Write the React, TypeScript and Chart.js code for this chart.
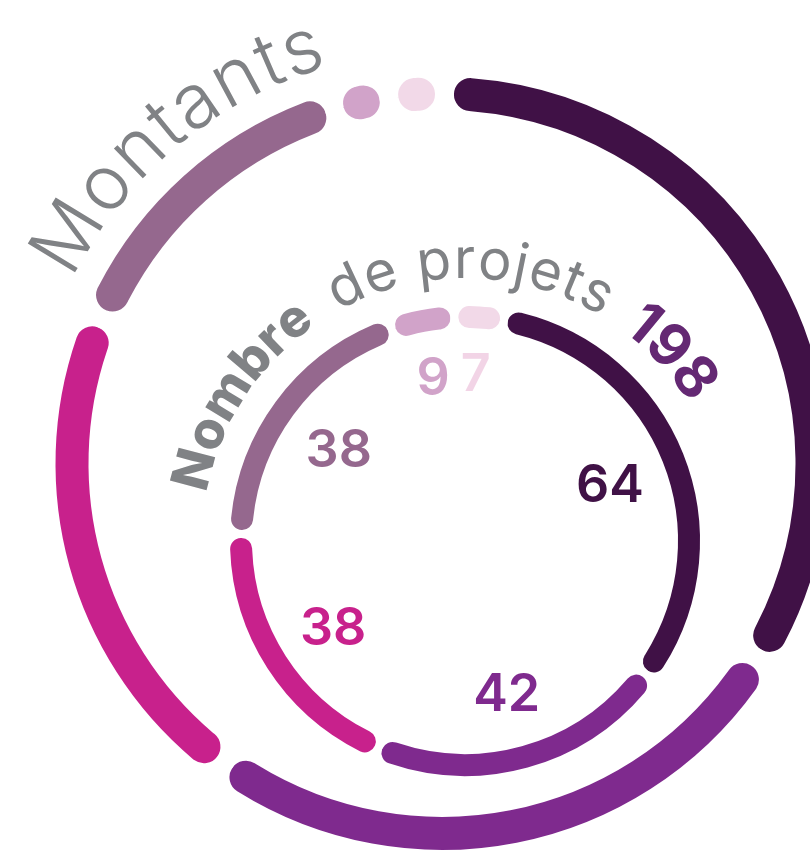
import React, { useEffect, useRef } from 'react';
import { Chart, ArcElement, DoughnutController } from 'chart.js';

Chart.register(ArcElement, DoughnutController);

// ---- data ----
const categories = ['Catégorie 1', 'Catégorie 2', 'Catégorie 3', 'Catégorie 4', 'Catégorie 5', 'Catégorie 6'];
const segmentColors = ['#401146', '#7f2a8e', '#c8218c', '#95688e', '#d1a3c9', '#f2d9e8'];
const labelColors = ['#401146', '#7f2a8e', '#c8218c', '#95688e', '#d1a3c9', '#f2d4e6'];
const montantsValues = [33.7, 26.2, 21.4, 13.9, 2.4, 2.4];
const projetsValues = [64, 42, 38, 38, 9, 7];
const projetsTotal = 198;
const titleMontants = 'Montants';
const titleProjetsBold = 'Nombre';
const titleProjetsLight = 'de projets';

const GREY = '#808285';
const TOTAL_COLOR = '#642873';
const FONT = 'Inter, "Open Sans", sans-serif';

type Part = { text: string; font: string; color: string; spacing: number };

function partsWidth(ctx: CanvasRenderingContext2D, parts: Part[]) {
  let total = 0;
  let n = 0;
  for (const p of parts) {
    ctx.font = p.font;
    for (const ch of p.text) {
      total += ctx.measureText(ch).width;
      n++;
    }
  }
  return { total, n };
}

// angles in degrees, measured clockwise from 12 o'clock
function drawCurved(ctx: CanvasRenderingContext2D, cx: number, cy: number, r: number, startDeg: number, parts: Part[], extra = 0) {
  let a = (startDeg * Math.PI) / 180;
  ctx.save();
  ctx.textAlign = 'center';
  ctx.textBaseline = 'alphabetic';
  for (const p of parts) {
    ctx.font = p.font;
    ctx.fillStyle = p.color;
    for (const ch of p.text) {
      const w = ctx.measureText(ch).width;
      const mid = a + w / 2 / r;
      ctx.save();
      ctx.translate(cx + r * Math.sin(mid), cy - r * Math.cos(mid));
      ctx.rotate(mid);
      ctx.fillText(ch, 0, 0);
      ctx.restore();
      a += (w + p.spacing + extra) / r;
    }
  }
  ctx.restore();
}

const outerTextPlugin = {
  id: 'outerText',
  afterDraw(chart: any) {
    const ctx = chart.ctx as CanvasRenderingContext2D;
    const arc = chart.getDatasetMeta(0).data[0];
    const cx = arc.x;
    const cy = arc.y;
    const r = 413;
    const parts: Part[] = [{ text: titleMontants, font: `300 76px ${FONT}`, color: GREY, spacing: 0 }];
    const startDeg = 296.5;
    const endDeg = 344;
    const { total, n } = partsWidth(ctx, parts);
    const extra = ((endDeg - startDeg) * Math.PI / 180 * r - total) / (n - 1);
    drawCurved(ctx, cx, cy, r, startDeg, parts, extra);
  },
};

const innerTextPlugin = {
  id: 'innerText',
  afterDraw(chart: any) {
    const ctx = chart.ctx as CanvasRenderingContext2D;
    const meta = chart.getDatasetMeta(0);
    const arc0 = meta.data[0];
    const cx = arc0.x;
    const cy = arc0.y;
    const parts: Part[] = [
      { text: titleProjetsBold, font: `800 52px ${FONT}`, color: GREY, spacing: 0 },
      { text: ' ', font: `400 56px ${FONT}`, color: GREY, spacing: 10 },
      { text: titleProjetsLight, font: `400 56px ${FONT}`, color: GREY, spacing: 1.2 },
      { text: ' ', font: `400 56px ${FONT}`, color: GREY, spacing: 8 },
      { text: String(projetsTotal), font: `700 58px ${FONT}`, color: TOTAL_COLOR, spacing: 0 },
    ];
    drawCurved(ctx, cx, cy, 263, 280.5, parts);

    ctx.save();
    ctx.font = `600 52px ${FONT}`;
    ctx.textAlign = 'center';
    ctx.textBaseline = 'alphabetic';
    meta.data.forEach((el: any, i: number) => {
      const label = String(projetsValues[i]);
      const mid = (el.startAngle + el.endAngle) / 2;
      const w = ctx.measureText(label).width;
      const rr = 180 - w * 0.35;
      ctx.fillStyle = labelColors[i];
      ctx.fillText(label, el.x + Math.cos(mid) * rr, el.y + Math.sin(mid) * rr + 19);
    });
    ctx.restore();
  },
};

function makeRing(canvas: HTMLCanvasElement, values: number[], opts: { outer: number; inner: number; gap: number; rotation: number; padding: any }, plugin: any) {
  return new Chart(canvas, {
    type: 'doughnut',
    data: {
      labels: categories,
      datasets: [
        {
          data: values,
          backgroundColor: segmentColors,
          borderColor: '#ffffff',
          borderWidth: opts.gap,
          borderAlign: 'center',
          borderRadius: (opts.outer - opts.inner) / 2,
          hoverOffset: 0,
          clip: false,
        } as any,
      ],
    },
    options: {
      animation: false,
      responsive: false,
      events: [],
      radius: opts.outer,
      cutout: `${(opts.inner / opts.outer) * 100}%`,
      rotation: opts.rotation,
      layout: { padding: opts.padding },
    } as any,
    plugins: [plugin],
  });
}

export default function App() {
  const outerRef = useRef<HTMLCanvasElement>(null);
  const innerRef = useRef<HTMLCanvasElement>(null);

  useEffect(() => {
    const outer = makeRing(outerRef.current!, montantsValues, {
      outer: 396, inner: 344, gap: 19, rotation: 0.38,
      padding: { left: 74, top: 76, right: 0, bottom: 0 },
    }, outerTextPlugin);
    const inner = makeRing(innerRef.current!, projetsValues, {
      outer: 239, inner: 209, gap: 8, rotation: 10,
      padding: { left: 120, top: 231, right: 0, bottom: 0 },
    }, innerTextPlugin);
    return () => {
      outer.destroy();
      inner.destroy();
    };
  }, []);

  const cs: React.CSSProperties = { position: 'absolute', left: 0, top: 0, width: 810, height: 851 };
  return (
    <div style={{ position: 'absolute', left: 0, top: 0, width: 810, height: 851, overflow: 'hidden', background: '#ffffff' }}>
      <canvas ref={outerRef} width={810} height={851} style={cs} />
      <canvas ref={innerRef} width={810} height={851} style={cs} />
    </div>
  );
}
